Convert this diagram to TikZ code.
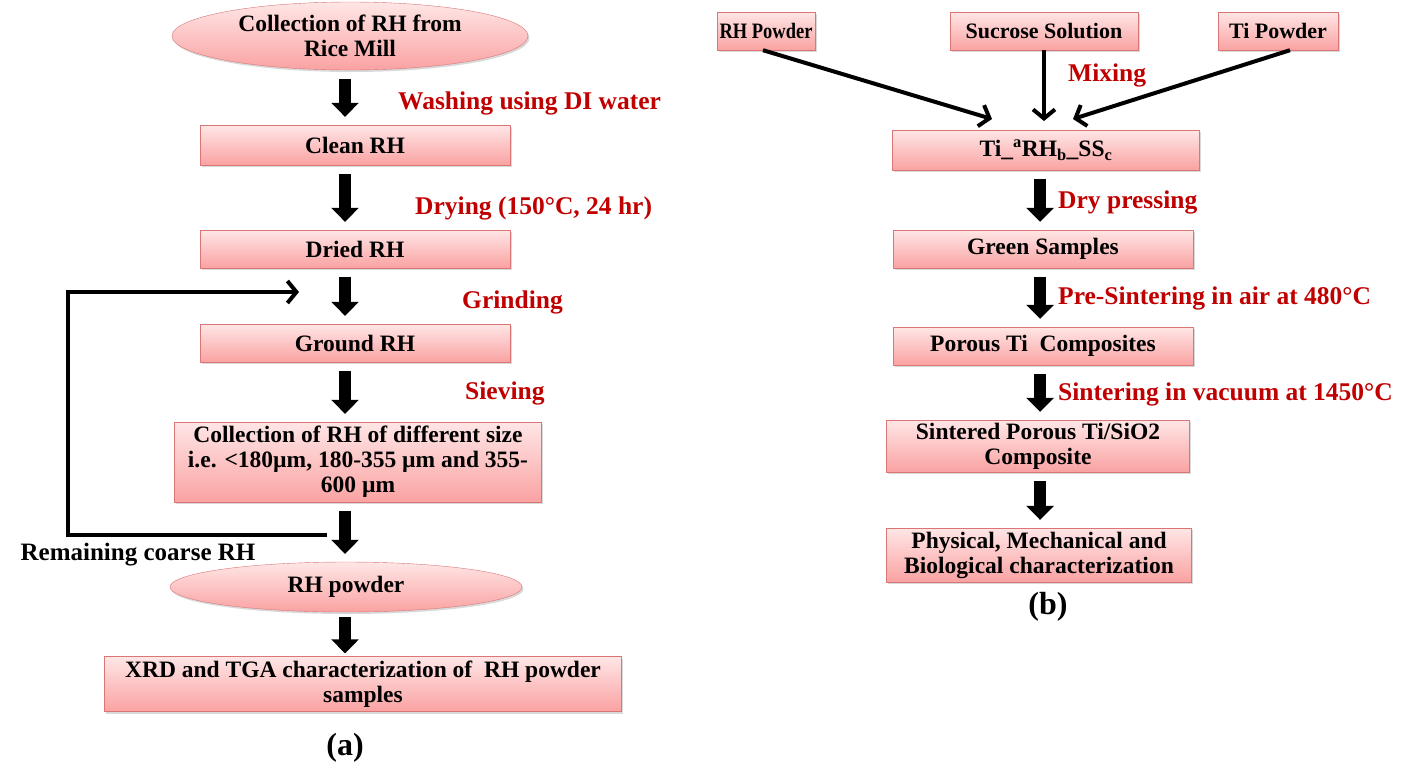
\documentclass[tikz,border=0pt]{standalone}
\usepackage{fontspec}
\setmainfont{Liberation Serif}
\usetikzlibrary{shapes.geometric, arrows.meta, shadows}
\definecolor{boxtop}{RGB}{255,230,230}
\definecolor{boxbot}{RGB}{250,162,162}
\definecolor{boxline}{RGB}{218,118,118}
\definecolor{labelred}{RGB}{192,0,0}
\tikzset{pbox/.style={draw=boxline, top color=boxtop, bottom color=boxbot, minimum height=38pt,
           inner sep=1pt, align=center, font=\fontsize{23.5}{25}\selectfont\bfseries,
           drop shadow={shadow xshift=1.5pt, shadow yshift=-2pt, opacity=0.3}},
         poval/.style={pbox, ellipse, inner sep=0pt},
         topbox/.style={pbox, font=\fontsize{22}{24}\selectfont\bfseries},
         bigarrow/.style={line width=12pt, -{Triangle[length=14pt,width=27pt]}, shorten <=9pt, shorten >=8pt},
         feedline/.style={line width=4pt, line join=miter, -{Straight Barb[length=9pt,width=22pt]}},
         mixarrow/.style={line width=4pt, -{Straight Barb[length=9pt,width=22pt]}},
         steplabel/.style={anchor=west, text=labelred, font=\fontsize{25.5}{27}\selectfont\bfseries, inner sep=0pt},
         panellabel/.style={font=\fontsize{32}{34}\selectfont\bfseries}}

\begin{document}
\begin{tikzpicture}[x=1pt, y=-1pt]
        \useasboundingbox (0,0) rectangle (1418,769);

        % (a) preparation of RH powder
        \node[poval, minimum width=356pt, minimum height=68pt](collect)at(350,36){Collection of RH from\\Rice Mill};
        \node[pbox, minimum width=310pt, minimum height=40pt](clean)at(355,145){Clean RH};
        \node[pbox, minimum width=310pt](dried)at(355,249){Dried RH};
        \node[pbox, minimum width=310pt](ground)at(355,343){Ground RH};
        \node[pbox, minimum width=367pt, minimum height=80pt](sizes)at(358,462){Collection of RH of different size\\i.e. <180µm, 180-355 µm and 355-\\600 µm};
        \node[poval, minimum width=352pt, minimum height=50pt](rhpowder)at(346,587){RH powder};
        \node[pbox, minimum width=517pt, minimum height=55pt](xrd)at(363,684){XRD and TGA characterization of\ \ RH powder\\samples};

        \draw[bigarrow](collect.south -| 345,0)--(clean.north -| 345,0);
        \draw[bigarrow](clean.south -| 345,0)--(dried.north -| 345,0);
        \draw[bigarrow](dried.south -| 345,0)--(ground.north -| 345,0);
        \draw[bigarrow](ground.south -| 345,0)--(sizes.north -| 345,0);
        \draw[bigarrow](sizes.south -| 345,0)--(rhpowder.north -| 345,0);
        \draw[bigarrow, shorten <=5pt, shorten >=3pt](rhpowder.south -| 345,0)--(xrd.north -| 345,0);

        \node[steplabel](wash)at(398,103){Washing using DI water};
        \node[steplabel](dry)at(415,208){Drying (150°C, 24 hr)};
        \node[steplabel](grind)at(462,302){Grinding};
        \node[steplabel](sieve)at(465,393){Sieving};

        % coarse RH goes back to grinding
        \coordinate(fb1)at(327,535);
        \coordinate(fb2)at(68,535);
        \coordinate(fb3)at(68,292);
        \coordinate(fb4)at(299,292);
        \draw[feedline](fb1)--(fb2)--(fb3)--(fb4);
        \node[font=\fontsize{25}{27}\selectfont\bfseries](coarse)at(138,555){Remaining coarse RH};

        \node[panellabel](pa)at(345,748){(a)};

        % (b) fabrication of porous Ti composite
        \node[topbox, minimum width=98pt](rhpow)at(766,31){\scalebox{0.84}[1]{RH Powder}};
        \node[topbox, minimum width=188pt](sucrose)at(1044,31){Sucrose Solution};
        \node[topbox, minimum width=120pt](tipow)at(1278,31){Ti Powder};
        \node[pbox, minimum width=307pt, minimum height=40pt](tirh)at(1046,150){Ti\_\textsuperscript{a}RH\textsubscript{b}\_SS\textsubscript{c}};
        \node[pbox, minimum width=300pt](green)at(1043,249){Green Samples};
        \node[pbox, minimum width=300pt](porous)at(1043,346){Porous Ti\ \ Composites};
        \node[pbox, minimum width=303pt, minimum height=52pt](sintered)at(1038,446){Sintered Porous Ti/SiO2\\Composite};
        \node[pbox, minimum width=305pt, minimum height=54pt](charact)at(1039,555){Physical, Mechanical and\\Biological characterization};

        \coordinate(in1)at(992,119);
        \coordinate(in2)at(1044,121);
        \coordinate(in3)at(1073,119);
        \draw[mixarrow](rhpow.south -| 763,0)--(in1);
        \draw[mixarrow](sucrose.south)--(in2);
        \draw[mixarrow](tipow.south -| 1290,0)--(in3);
        \node[steplabel](mix)at(1068,75){Mixing};

        \draw[bigarrow](tirh.south -| 1040,0)--(green.north -| 1040,0);
        \draw[bigarrow](green.south -| 1040,0)--(porous.north -| 1040,0);
        \draw[bigarrow](porous.south -| 1040,0)--(sintered.north -| 1040,0);
        \draw[bigarrow](sintered.south -| 1040,0)--(charact.north -| 1040,0);

        \node[steplabel](press)at(1058,202){Dry pressing};
        \node[steplabel](presint)at(1058,298){Pre-Sintering in air at 480°C};
        \node[steplabel](sint)at(1058,394){Sintering in vacuum at 1450°C};

        \node[panellabel](pb)at(1048,607){(b)};
    \end{tikzpicture}
\end{document}
